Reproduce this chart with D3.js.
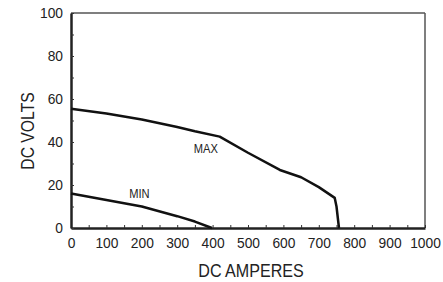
<!DOCTYPE html>
<html><head><meta charset="utf-8">
<script src="https://cdn.jsdelivr.net/npm/d3@7"></script>
<style>
body{margin:0;background:#fff;}
text{font-family:"Liberation Sans",Arial,sans-serif;fill:#222;}
</style></head>
<body><svg id="c" width="443" height="282"></svg>
<script>
const maxAmps  = [0, 100, 200, 300, 350, 420, 500, 590, 650, 700, 745, 750, 757];
const maxVolts = [55.5, 53.3, 50.5, 47, 45, 42.5, 35, 27, 23.6, 19, 14, 10, 0];
const minAmps  = [0, 100, 200, 300, 350, 398];
const minVolts = [16, 13, 10, 5.5, 3, 0];
const xTicks = d3.range(0, 1001, 50);
const yTicks = d3.range(0, 101, 10);
const xTitle = "DC AMPERES", yTitle = "DC VOLTS";
const curveLabels = ["MAX", "MIN"];
const labelAmps = [381, 193];
const labelVolts = [35, 14];

const W=443,H=282,m={l:71,t:13,r:18,b:54};
const svg=d3.select("#c");
const x=d3.scaleLinear().domain([0,1000]).range([m.l,W-m.r]);
const y=d3.scaleLinear().domain([0,100]).range([H-m.b,m.t]);

// frame top/right
svg.append("line").attr("x1",x(0)).attr("x2",x(1000)).attr("y1",y(100)).attr("y2",y(100)).attr("stroke","#555").attr("stroke-width",1.5);
svg.append("line").attr("x1",x(1000)).attr("x2",x(1000)).attr("y1",y(100)).attr("y2",y(0)).attr("stroke","#555").attr("stroke-width",1.5);

const sx=0.92;
const gx=svg.append("g").attr("transform",`translate(0,${y(0)})`)
 .call(d3.axisBottom(x).tickValues(xTicks).tickSizeInner(-3).tickSizeOuter(0).tickPadding(9)
   .tickFormat(d=>d%100===0?d:""));
const gy=svg.append("g").attr("transform",`translate(${x(0)},0)`)
 .call(d3.axisLeft(y).tickValues(yTicks).tickSizeInner(-3).tickSizeOuter(0).tickPadding(8)
   .tickFormat(d=>d%20===0?d:""));
[gx,gy].forEach(g=>{
  g.select(".domain").attr("stroke","#222").attr("stroke-width",2.5);
  g.selectAll(".tick line").attr("stroke","#333").attr("stroke-width",1);
  g.selectAll(".tick text").attr("font-size",15).attr("font-family",null).attr("fill","#222");
});
gx.selectAll(".tick text").attr("transform",`scale(${sx},1)`);
gy.selectAll(".tick text").attr("x",0).attr("transform",`translate(-8,0) scale(${sx},1)`);

const line=d3.line().x(d=>x(d[0])).y(d=>y(d[1]));
svg.append("path").datum(d3.zip(maxAmps,maxVolts)).attr("d",line).attr("fill","none").attr("stroke","#111").attr("stroke-width",2.5).attr("stroke-linejoin","round");
svg.append("path").datum(d3.zip(minAmps,minVolts)).attr("d",line).attr("fill","none").attr("stroke","#111").attr("stroke-width",2.5).attr("stroke-linejoin","round");

curveLabels.forEach((t,i)=>svg.append("text")
  .attr("transform",`translate(${x(labelAmps[i])},${y(labelVolts[i])}) scale(0.89,1)`)
  .attr("text-anchor","middle").attr("font-size",12.5).attr("fill","#333").text(t));

svg.append("text").attr("transform","translate(251,277) scale(0.87,1)").attr("text-anchor","middle").attr("font-size",18.5).text(xTitle);
svg.append("text").attr("transform","translate(34,131) rotate(-90) scale(0.85,1)").attr("text-anchor","middle").attr("font-size",18.5).text(yTitle);
</script></body></html>
